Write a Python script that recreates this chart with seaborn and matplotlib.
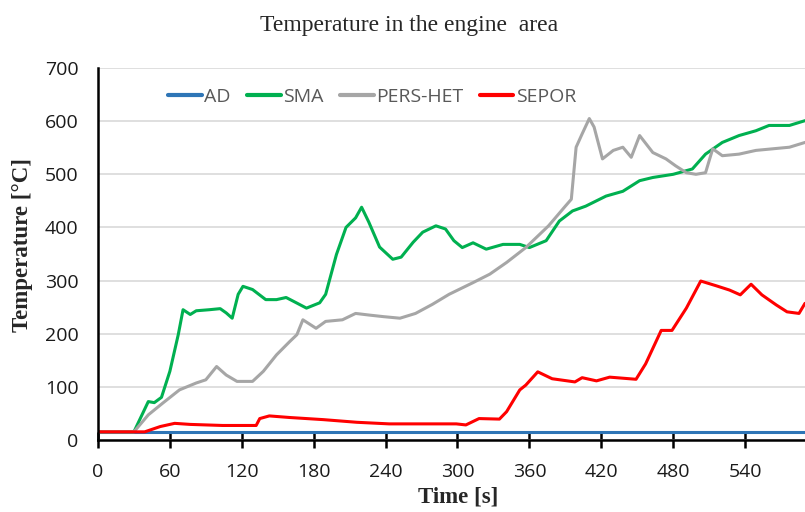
import pandas as pd
import matplotlib.pyplot as plt
import seaborn as sns

sns.set_theme(style="white")
plt.rcParams['font.family'] = ['Open Sans', 'DejaVu Sans']

# series (time [s], temperature [°C])
ad_t = [0, 590]
ad_v = [15, 15]

sma_t = [0, 30, 42, 47, 53, 60, 67, 71, 77, 82, 93, 102, 107, 112, 117, 121, 129, 140,
         149, 157, 163, 174, 185, 190, 199, 207, 215, 220, 226, 235, 246, 253, 263, 271,
         282, 290, 297, 304, 313, 324, 338, 352, 360, 374, 385, 396, 407, 424, 438, 452,
         463, 480, 496, 507, 521, 535, 549, 560, 577, 590]
sma_v = [15, 15, 72, 70, 80, 129, 198, 245, 236, 243, 245, 247, 239, 229, 274, 289, 283, 264,
         264, 268, 261, 248, 258, 274, 349, 400, 418, 438, 410, 363, 340, 344, 372, 391,
         403, 397, 375, 362, 371, 359, 368, 368, 362, 375, 412, 431, 440, 459, 468, 488,
         494, 500, 510, 538, 560, 573, 582, 592, 592, 601]

pers_t = [0, 30, 42, 54, 68, 82, 90, 99, 107, 116, 129, 138, 149, 160, 166, 171, 182, 190,
          204, 215, 226, 238, 252, 265, 279, 293, 313, 327, 341, 357, 376, 390, 395, 399,
          404, 410, 414, 421, 430, 438, 445, 452, 463, 474, 482, 491, 499, 507, 513, 521,
          535, 549, 563, 577, 590]
pers_v = [15, 15, 47, 69, 94, 107, 113, 138, 122, 110, 110, 129, 160, 185, 198, 226, 210, 223,
          226, 238, 235, 232, 229, 238, 255, 274, 296, 312, 334, 362, 403, 440, 453, 551,
          576, 605, 589, 529, 545, 551, 532, 573, 541, 529, 516, 503, 500, 503, 548, 535,
          538, 545, 548, 551, 560]

sepor_t = [0, 39, 52, 64, 77, 104, 132, 135, 143, 160, 188, 216, 243, 271, 299, 307, 318,
           335, 341, 352, 357, 367, 379, 398, 404, 416, 427, 449, 457, 470, 479, 491, 503,
           516, 527, 536, 545, 554, 566, 575, 585, 590]
sepor_v = [15, 15, 25, 31, 29, 27, 27, 40, 45, 42, 38, 33, 30, 30, 30, 28, 40,
           39, 53, 94, 103, 128, 115, 109, 117, 111, 118, 114, 143, 206, 206, 248, 299,
           290, 282, 273, 293, 273, 254, 241, 238, 257]

names = ['AD', 'SMA', 'PERS-HET', 'SEPOR']
colors = ['#2E75B6', '#00B050', '#A6A6A6', '#FF0000']

frames = []
for name, t, v in zip(names, [ad_t, sma_t, pers_t, sepor_t], [ad_v, sma_v, pers_v, sepor_v]):
    frames.append(pd.DataFrame({'Time': t, 'Temp': v, 'series': name}))
df = pd.concat(frames, ignore_index=True)

fig = plt.figure(figsize=(8.05, 5.12), dpi=100)
ax = fig.add_axes([0.1217, 0.141, 0.8783, 0.726])

sns.lineplot(data=df, x='Time', y='Temp', hue='series', hue_order=names,
             palette=colors, estimator=None, sort=False, linewidth=2.2, ax=ax)

ax.set_xlim(0, 590)
ax.set_ylim(0, 700)
ax.set_xticks(range(0, 541, 60))
ax.set_yticks(range(0, 701, 100))
ax.tick_params(axis='x', direction='inout', length=11, width=1.8, color='black',
               labelsize=14, pad=11, bottom=True)
ax.tick_params(axis='y', length=0, labelsize=14, pad=14)
for lbl in ax.get_xticklabels() + ax.get_yticklabels():
    lbl.set_color('#1a1a1a')

ax.grid(axis='y', color='#d9d9d9', linewidth=1.2)
ax.grid(axis='x', visible=False)
for s in ['top', 'right']:
    ax.spines[s].set_visible(False)
for s in ['left', 'bottom']:
    ax.spines[s].set_color('black')
    ax.spines[s].set_linewidth(1.8)

serif = ['Liberation Serif', 'DejaVu Serif']
ax.set_xlabel('Time [s]', family=serif, fontweight='bold', fontsize=16.5)
ax.set_ylabel('Temperature [°C]', family=serif, fontweight='bold', fontsize=16.5)
ax.xaxis.set_label_coords(0.509, -0.126)
ax.yaxis.set_label_coords(-0.092, 0.524)
fig.text(0.508, 0.951, 'Temperature in the engine  area', family=serif, fontsize=17,
         ha='center', va='center')

leg = ax.legend(loc='center left', bbox_to_anchor=(0.075, 0.922), ncol=4, frameon=False,
                fontsize=14, handlelength=1.7, handletextpad=0.15, columnspacing=0.85)
for txt in leg.get_texts():
    txt.set_color('#595959')
for line in leg.get_lines():
    line.set_linewidth(3)

fig.savefig('out.png', dpi=100)
